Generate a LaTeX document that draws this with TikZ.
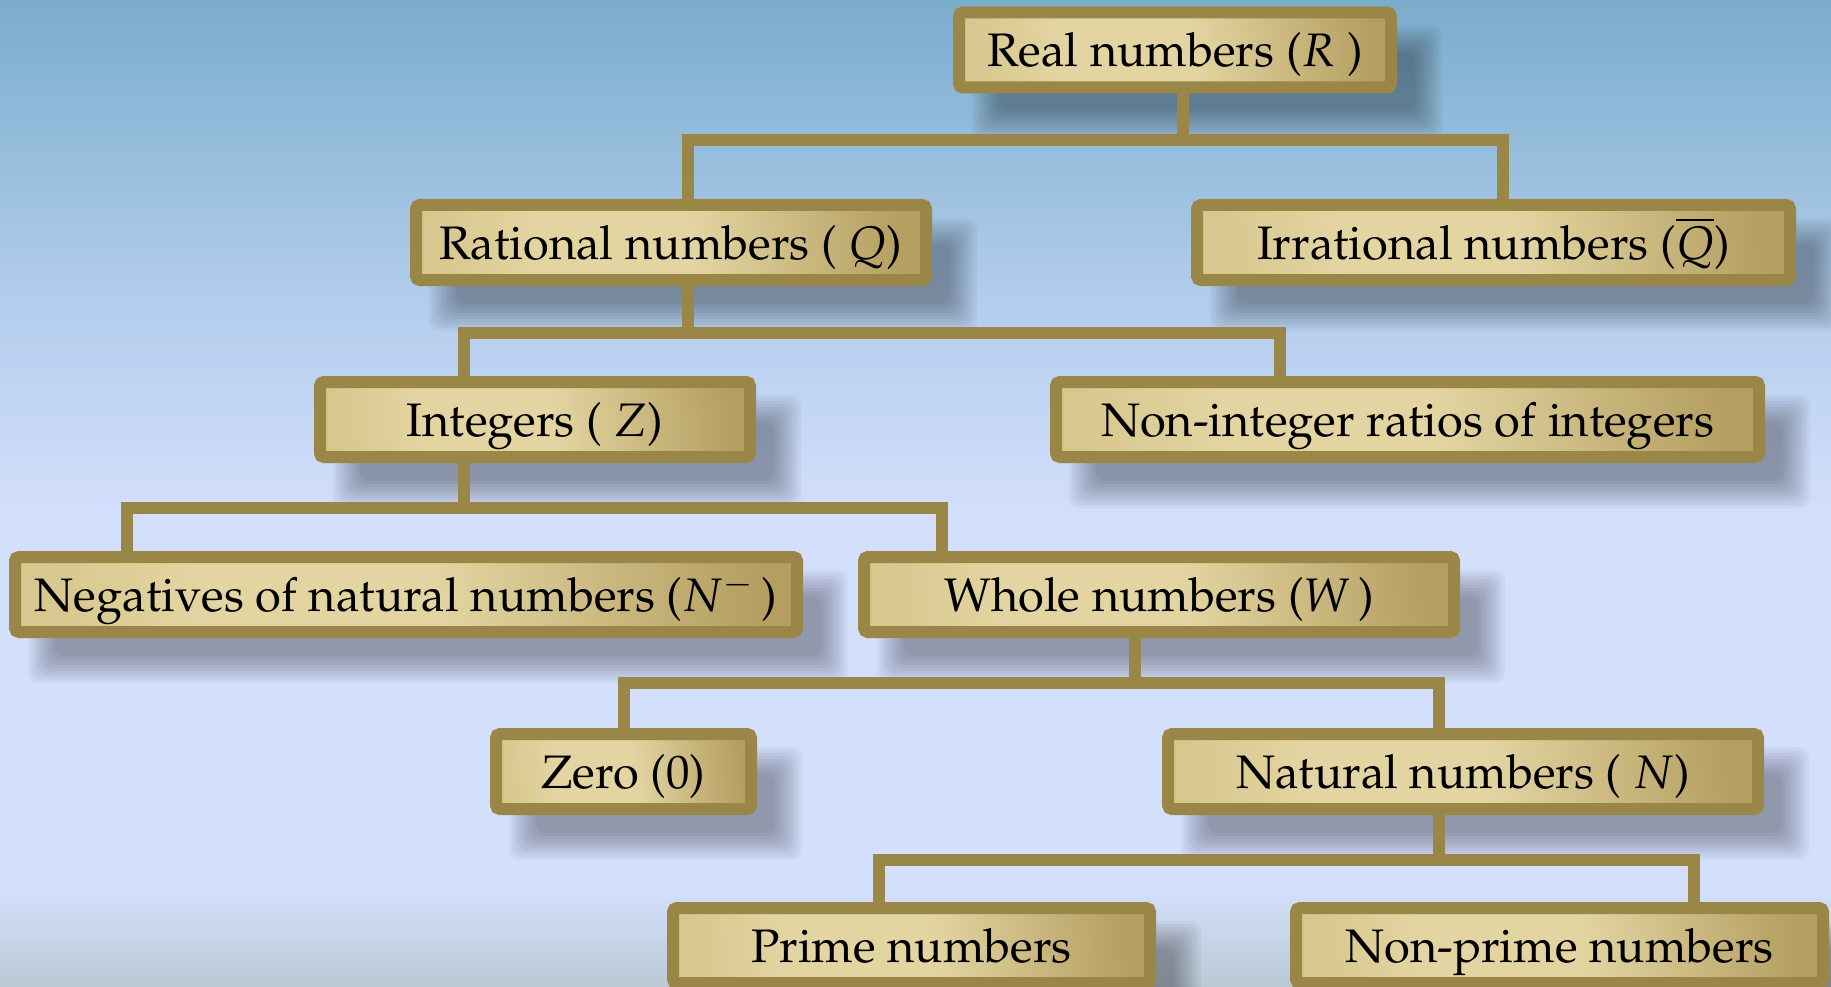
\documentclass[tikz,border=0pt]{standalone}
\usepackage[T1]{fontenc}
\usepackage{mathpazo}
\usetikzlibrary{calc}
\definecolor{bgtop}{RGB}{122,173,203}
\definecolor{bgmid}{RGB}{179,205,237}
\definecolor{bglav}{RGB}{212,223,252}
\definecolor{bgbot}{RGB}{187,201,213}
\definecolor{gold}{RGB}{154,134,70}
\definecolor{goldA}{RGB}{216,199,142}
\definecolor{goldlight}{RGB}{227,213,162}
\definecolor{golddark}{RGB}{180,158,96}
\pgfdeclarehorizontalshading{goldsh}{100bp}{color(0bp)=(goldA); color(25bp)=(goldA);
  color(36bp)=(goldlight); color(52bp)=(goldlight); color(75bp)=(golddark); color(100bp)=(golddark)}
\pgfdeclarelayer{bg}
\pgfdeclarelayer{shadow}
\pgfdeclarelayer{lines}
\pgfsetlayers{bg,shadow,lines,main}
\begin{document}
\begin{tikzpicture}[x=1pt,y=-1pt,
  box/.style={draw=gold, line width=12pt, rounded corners=4pt, inner sep=0pt,
    minimum height=75pt, shading=goldsh, shading angle=6,
    font=\fontsize{47}{56}\selectfont, text height=40pt, text depth=6pt},
  conn/.style={draw=gold, line width=12pt, line join=miter}]
\useasboundingbox (0,0) rectangle (1831,987);
\begin{pgfonlayer}{bg}
  \shade[top color=bgtop, bottom color=bgmid] (0,0) rectangle (1831,301);
  \shade[top color=bgmid, bottom color=bglav] (0,300) rectangle (1831,521);
  \fill[bglav] (0,520) rectangle (1831,891);
  \shade[top color=bglav, bottom color=bgbot] (0,890) rectangle (1831,987);
\end{pgfonlayer}

\node[box, minimum width=432pt] (real) at (1175,50) {Real numbers ($R$\ )};
\node[box, minimum width=510pt] (rat) at (671,242.5) {Rational numbers ( $Q$)};
\node[box, minimum width=593pt] (irr) at (1493.5,242.5) {Irrational numbers ($\overline{Q}$)};
\node[box, minimum width=430pt] (int) at (535,419.5) {Integers ( $Z$)};
\node[box, minimum width=703pt] (nonint) at (1407.5,419.5) {Non-integer ratios of integers};
\node[box, minimum width=782pt] (neg) at (406,594.5) {Negatives of natural numbers ($N^-$\,)};
\node[box, minimum width=590pt] (whole) at (1159,594.5) {Whole numbers ($W$\,)};
\node[box, minimum width=255pt] (zero) at (623.5,771.5) {Zero (0)};
\node[box, minimum width=590pt] (nat) at (1463,771.5) {Natural numbers ( $N$)};
\node[box, minimum width=477pt] (prime) at (911.5,945.5) {Prime numbers};
\node[box, minimum width=527pt] (nonprime) at (1559.5,945.5) {Non-prime numbers};

\begin{pgfonlayer}{shadow}
  \foreach \n in {real,rat,irr,int,nonint,neg,whole,zero,nat,prime,nonprime}{
    \foreach \e in {-14,-11,...,13}{
      \fill[black, opacity=0.035, rounded corners=10pt]
        ($(\n.north west)+(32-\e,32-\e)$) rectangle ($(\n.south east)+(32+\e,32+\e)$);
    }
  }
\end{pgfonlayer}

\begin{pgfonlayer}{lines}
  \coordinate (h1) at (1183,140);
  \coordinate (h2) at (688,333);
  \coordinate (h3) at (464,508);
  \coordinate (h4) at (1135,683);
  \coordinate (h5) at (1439,860);
  \draw[conn] ([xshift=8pt]real.south) -- (h1);
  \draw[conn] ([xshift=17pt]rat.north) |- (h1) -| ([xshift=9.5pt]irr.north);
  \draw[conn] ([xshift=17pt]rat.south) -- (h2);
  \draw[conn] ([xshift=-71pt]int.north) |- (h2) -| ([xshift=-127.5pt]nonint.north);
  \draw[conn] ([xshift=-71pt]int.south) -- (h3);
  \draw[conn] ([xshift=-279pt]neg.north) |- (h3) -| ([xshift=-217pt]whole.north);
  \draw[conn] ([xshift=-24pt]whole.south) -- (h4);
  \draw[conn] ([xshift=0pt]zero.north) |- (h4) -| ([xshift=-24pt]nat.north);
  \draw[conn] ([xshift=-24pt]nat.south) -- (h5);
  \draw[conn] ([xshift=-32.5pt]prime.north) |- (h5) -| ([xshift=134.5pt]nonprime.north);
\end{pgfonlayer}
\end{tikzpicture}
\end{document}
